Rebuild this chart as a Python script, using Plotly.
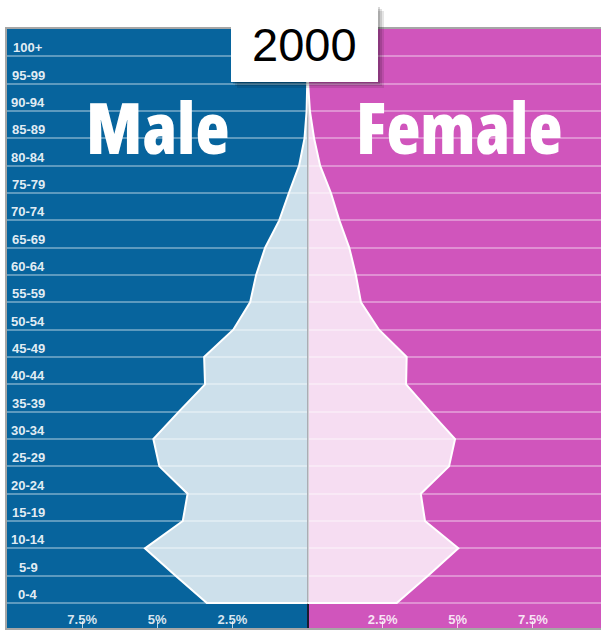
import plotly.graph_objects as go

# population share (%) by five-year age group, year 2000
age_groups = ["0-4", "5-9", "10-14", "15-19", "20-24", "25-29", "30-34", "35-39",
              "40-44", "45-49", "50-54", "55-59", "60-64", "65-69", "70-74",
              "75-79", "80-84", "85-89", "90-94", "95-99", "100+"]
age_start = [0, 5, 10, 15, 20, 25, 30, 35, 40, 45, 50, 55, 60, 65, 70,
             75, 80, 85, 90, 95, 100]
male = [3.35, 4.39, 5.41, 4.15, 3.99, 4.93, 5.13, 4.28, 3.41, 3.44, 2.47,
        1.91, 1.71, 1.41, 0.94, 0.62, 0.28, 0.10, 0.03, 0.01, 0.0]
female = [2.97, 4.01, 5.02, 3.91, 3.77, 4.71, 4.91, 4.08, 3.28, 3.30, 2.38,
          1.78, 1.61, 1.39, 1.06, 0.78, 0.42, 0.22, 0.08, 0.02, 0.0]
tick_vals = [-7.5, -5, -2.5, 2.5, 5, 7.5]
tick_text = ["7.5%", "5%", "2.5%", "2.5%", "5%", "7.5%"]
year = "2000"

BLUE = "#07649d"
PINK = "#d055bc"
FILL = "rgba(255,255,255,0.8)"
FONT = "Liberation Sans, Arial, sans-serif"

W, H = 601, 630
PL, PR, PT, PB = 7, 601, 29, 628


def px_x(p):
    return (p - PL) / (PR - PL)


def px_y(p):
    return (PB - p) / (PB - PT)


fig = go.Figure()

# male side (left), closed at the bottom to the centre line
fig.add_trace(go.Scatter(
    x=[0] + [-v for v in male], y=[age_start[0]] + age_start,
    mode="lines", fill="tozerox", fillcolor=FILL,
    line=dict(color="white", width=2), hoverinfo="skip", showlegend=False))
fig.add_trace(go.Scatter(
    x=[0] + female, y=[age_start[0]] + age_start,
    mode="lines", fill="tozerox", fillcolor=FILL,
    line=dict(color="white", width=2), hoverinfo="skip", showlegend=False))

x_lo, x_hi = -10, 9.767
y_lo, y_hi = -4.57, 105

# coloured halves behind the grid
fig.add_shape(type="rect", xref="x", yref="paper", x0=x_lo, x1=0, y0=0, y1=1,
              fillcolor=BLUE, line_width=0, layer="below")
fig.add_shape(type="rect", xref="x", yref="paper", x0=0, x1=x_hi, y0=0, y1=1,
              fillcolor=PINK, line_width=0, layer="below")

# age labels inside the plot
for lab, a in zip(age_groups, age_start):
    fig.add_annotation(x=-9.3, y=a + 2.5, xref="x", yref="y", text=lab,
                       showarrow=False, yshift=-5, xanchor="center", yanchor="middle",
                       font=dict(family=FONT, size=13, color="rgba(255,255,255,0.9)",
                                 weight="bold"))

# year box with a soft shadow
for dx, a in [(6, 0.10), (4, 0.12), (2, 0.15)]:
    fig.add_shape(type="rect", xref="paper", yref="paper",
                  x0=px_x(231 + dx), x1=px_x(378 + dx), y0=px_y(82 + dx), y1=px_y(5 + dx),
                  fillcolor=f"rgba(0,0,0,{a})", line_width=0, layer="above")
fig.add_shape(type="rect", xref="paper", yref="paper",
              x0=px_x(231), x1=px_x(378), y0=px_y(82), y1=px_y(5),
              fillcolor="white", line_width=0, layer="above")
fig.add_annotation(x=px_x(304), y=px_y(44), xref="paper", yref="paper", text=year,
                   showarrow=False, xanchor="center", yanchor="middle",
                   font=dict(family=FONT, size=47, color="black"))

# tall condensed headings (Open Sans narrow width)
big = dict(family="Open Sans", size=70, color="white", weight=800)
fig.add_annotation(x=px_x(157), y=px_y(127), xref="paper", yref="paper",
                   text='<span style="font-stretch:75%">Male</span>',
                   showarrow=False, xanchor="center", yanchor="middle", font=big)
fig.add_annotation(x=px_x(459), y=px_y(127), xref="paper", yref="paper",
                   text='<span style="font-stretch:75%">Female</span>',
                   showarrow=False, xanchor="center", yanchor="middle", font=big)

fig.update_xaxes(range=[x_lo, x_hi], showgrid=False,
                 zeroline=True, zerolinecolor="#1c1c30", zerolinewidth=2,
                 tickvals=tick_vals, ticktext=tick_text,
                 ticks="inside", ticklen=7, tickcolor="rgba(255,255,255,0.75)", tickwidth=1,
                 ticklabelposition="inside", ticklabelstandoff=-6,
                 tickfont=dict(family=FONT, size=13, color="rgba(255,255,255,0.85)",
                               weight="bold"),
                 showline=True, mirror=True, linecolor="rgba(0,0,0,0.35)", linewidth=2,
                 fixedrange=True)
fig.update_yaxes(range=[y_lo, y_hi], tickvals=age_start, showticklabels=False,
                 showgrid=True, gridcolor="rgba(255,255,255,0.35)", gridwidth=2,
                 zeroline=False, ticks="",
                 showline=True, linecolor="rgba(0,0,0,0.35)", linewidth=2,
                 fixedrange=True)

fig.update_layout(width=W, height=H,
                  margin=dict(l=PL, r=W - PR, t=PT, b=H - PB),
                  paper_bgcolor="white", plot_bgcolor="rgba(0,0,0,0)",
                  showlegend=False)

fig.write_html("out.html", config={"displayModeBar": False},
               post_script="document.body.style.margin='0px';")
